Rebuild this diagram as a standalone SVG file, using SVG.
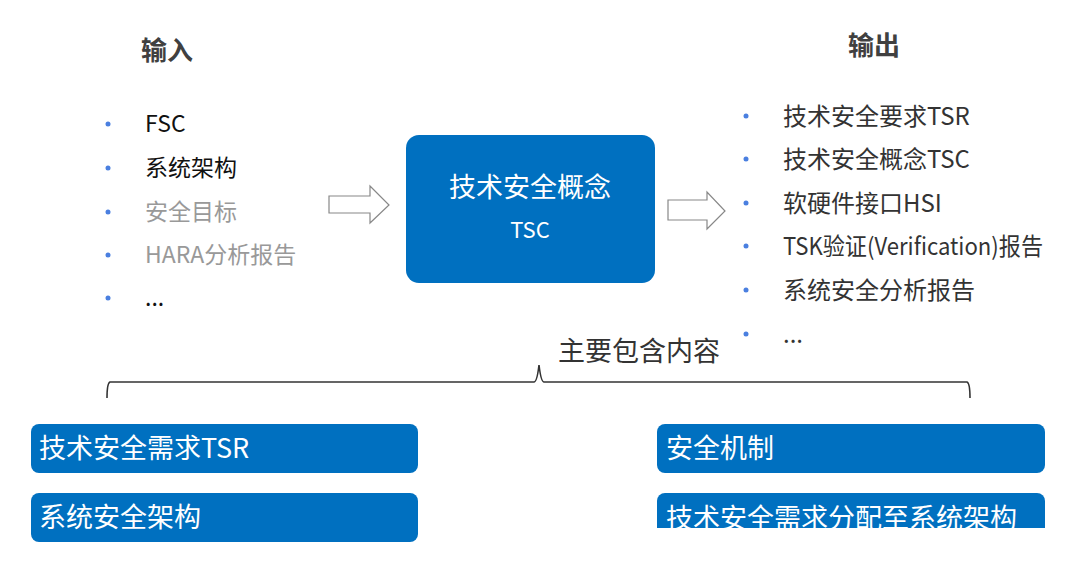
<svg xmlns="http://www.w3.org/2000/svg" width="1080" height="575" viewBox="0 0 1080 575">
<style>
text{font-family:"Noto Sans CJK SC","Noto Sans",sans-serif;}
.h{font-size:26px;font-weight:bold;fill:#404040;}
.li{font-size:23px;fill:#111;}
.lg{font-size:23px;fill:#999;}
.ri{font-size:24px;fill:#333;}
.dot{fill:#4A7FE0;}
.box{fill:#0070C0;}
.bt{font-size:27px;fill:#fff;}
.arr{fill:#fff;stroke:#888;stroke-width:1.2;}
.brace{fill:none;stroke:#333;stroke-width:1.6;}
</style>
<defs><clipPath id="cp"><rect x="655" y="490" width="395" height="38"/></clipPath></defs>
<rect width="1080" height="575" fill="#fff"/>
<g id="input">
<text x="141" y="60" class="h">输入</text>
<circle class="dot" cx="108" cy="124" r="2.5"/><text x="145" y="132" class="li">FSC</text>
<circle class="dot" cx="108" cy="168" r="2.5"/><text x="145" y="176" class="li">系统架构</text>
<circle class="dot" cx="108" cy="212" r="2.5"/><text x="145" y="220" class="lg">安全目标</text>
<circle class="dot" cx="108" cy="255" r="2.5"/><text x="145" y="263" class="lg">HARA分析报告</text>
<circle class="dot" cx="108" cy="298" r="2.5"/><text x="145" y="306" class="li">...</text>
</g>
<g id="output">
<text x="848" y="55" class="h">输出</text>
<circle class="dot" cx="746" cy="116" r="2.5"/><text x="783" y="125" class="ri">技术安全要求TSR</text>
<circle class="dot" cx="746" cy="159" r="2.5"/><text x="783" y="168" class="ri">技术安全概念TSC</text>
<circle class="dot" cx="746" cy="203" r="2.5"/><text x="783" y="212" class="ri">软硬件接口HSI</text>
<circle class="dot" cx="746" cy="246" r="2.5"/><text x="783" y="255" class="ri" textLength="260" lengthAdjust="spacingAndGlyphs">TSK验证(Verification)报告</text>
<circle class="dot" cx="746" cy="290" r="2.5"/><text x="783" y="299" class="ri">系统安全分析报告</text>
<circle class="dot" cx="746" cy="334" r="2.5"/><text x="783" y="343" class="ri">...</text>
</g>
<g id="tsc">
<rect class="box" x="406" y="135" width="249" height="148" rx="13"/>
<text x="530" y="197" text-anchor="middle" style="font-size:27px;fill:#fff">技术安全概念</text>
<text x="530" y="238" text-anchor="middle" style="font-size:22px;fill:#fff">TSC</text>
</g>
<g id="connectors">
<path class="arr" d="M329,196 H370 V186 L389,205 L370,223 V213 H329 Z"/>
<path class="arr" d="M668,200 H707 V192 L725,211 L707,229 V220 H668 Z"/>
<path class="brace" d="M107,398 Q107,383 110,382 H534 Q537,382 539,365 Q541,382 544,382 H967 Q970,383 970,398"/>
</g>
<g id="label"><text x="558" y="361" style="font-size:27px;fill:#333">主要包含内容</text></g>
<g id="tsr"><rect class="box" x="31" y="424" width="387" height="49" rx="8"/><text x="39" y="458" class="bt">技术安全需求TSR</text></g>
<g id="arch"><rect class="box" x="31" y="493" width="387" height="49" rx="8"/><text x="39" y="527" class="bt">系统安全架构</text></g>
<g id="mech"><rect class="box" x="657" y="424" width="388" height="49" rx="8"/><text x="666" y="458" class="bt">安全机制</text></g>
<g id="alloc" clip-path="url(#cp)"><rect class="box" x="657" y="493" width="388" height="49" rx="8"/><text x="666" y="528" class="bt">技术安全需求分配至系统架构</text></g>
</svg>
